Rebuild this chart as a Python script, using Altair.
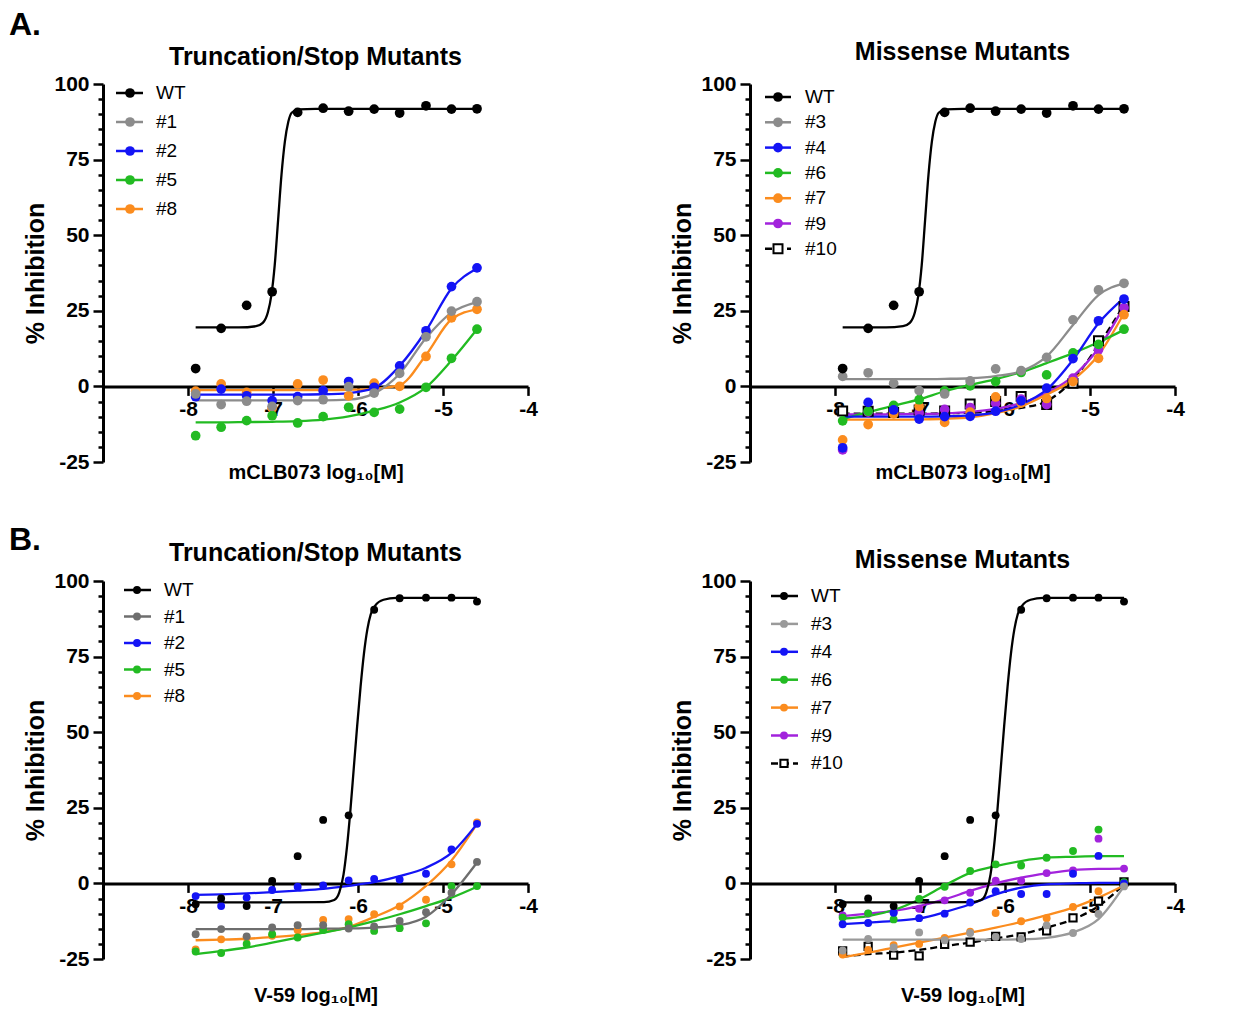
import altair as alt
import pandas as pd

FONT = "Liberation Sans"

# ---------------- data ----------------
DOSE = [-7.91, -7.61, -7.31, -7.01, -6.71, -6.41, -6.11, -5.81, -5.51, -5.20, -4.90, -4.60]
X_TICKS = [-8, -7, -6, -5, -4]
Y_TICKS = [-25, -20, -15, -10, -5, 0, 5, 10, 15, 20, 25, 30, 35, 40, 45, 50,
           55, 60, 65, 70, 75, 80, 85, 90, 95, 100]

# Panel A (mCLB073)
A_WT_PTS = [5.9, 19.2, 26.8, 31.3, 90.6, 92.0, 91.0, 91.7, 90.4, 92.8, 91.7, 91.8]
A_WT_FIT_X = [-7.91, -7.40, -7.20, -7.12, -7.06, -7.02, -6.98, -6.94, -6.90, -6.86, -6.82, -6.78, -6.70, -6.50, -4.60]
A_WT_FIT_Y = [19.5, 19.5, 19.9, 21.0, 24.5, 30.0, 40.0, 55.0, 70.0, 81.0, 87.5, 90.5, 91.6, 91.8, 91.8]

A_N1_PTS = [-2.5, -6.0, -4.9, -6.6, -4.7, -4.4, -0.1, -2.2, 4.3, 16.4, 24.9, 28.0]
A_N1_FIT = [-4.6, -4.6, -4.6, -4.6, -4.6, -4.6, -4.4, -2.3, 4.2, 16.0, 24.4, 27.9]
A_N2_PTS = [-3.4, -0.9, -3.1, -4.7, -3.4, -1.4, 1.6, -0.3, 6.8, 18.4, 33.0, 39.2]
A_N2_FIT = [-2.7, -2.7, -2.7, -2.7, -2.7, -2.6, -2.2, -0.5, 6.8, 18.4, 32.4, 39.0]
A_N5_PTS = [-16.3, -13.5, -11.3, -9.7, -12.1, -10.0, -6.9, -8.6, -7.5, -0.3, 9.3, 18.9]
A_N5_FIT = [-11.9, -11.9, -11.8, -11.7, -11.5, -11.0, -9.9, -8.0, -5.3, -0.3, 8.6, 18.9]
A_N8_PTS = [-1.6, 0.8, -2.0, -7.2, 0.8, 2.1, -3.1, 1.1, 0.0, 9.9, 22.7, 25.5]
A_N8_FIT = [-1.2, -1.2, -1.2, -1.2, -1.2, -1.2, -1.1, -0.8, 0.4, 10.4, 22.2, 25.5]

A_N3_PTS = [3.3, 4.5, 1.0, -1.4, -2.5, 1.8, 5.8, 5.2, 9.6, 22.0, 31.9, 34.1]
A_N3_FIT = [2.4, 2.4, 2.4, 2.4, 2.5, 2.7, 3.4, 5.0, 9.9, 20.3, 30.2, 34.1]
A_N4_PTS = [-20.3, -5.3, -7.8, -10.8, -10.0, -9.9, -8.2, -4.8, -0.6, 9.2, 21.7, 28.9]
A_N4_FIT = [-10.0, -10.0, -10.0, -10.0, -9.9, -9.6, -8.6, -6.0, -1.1, 8.8, 20.9, 29.3]
A_N6_PTS = [-11.4, -8.2, -6.3, -4.4, -1.5, 0.2, 1.6, 4.6, 3.8, 11.1, 13.9, 18.9]
A_N6_FIT = [-10.8, -8.5, -6.4, -4.3, -1.6, 0.5, 2.4, 4.7, 7.7, 11.0, 14.6, 18.7]
A_N7_PTS = [-17.7, -12.6, -9.1, -6.6, -11.9, -8.5, -3.5, -5.5, -4.0, 1.6, 9.3, 23.7]
A_N7_FIT = [-11.0, -11.0, -11.0, -10.9, -10.7, -10.2, -8.8, -6.6, -2.7, 2.2, 10.4, 24.2]
A_N9_PTS = [-21.0, -8.5, -8.7, -8.8, -7.6, -7.0, -5.6, -4.2, -6.0, 2.7, 12.1, 26.0]
A_N9_FIT = [-9.3, -9.3, -9.2, -9.1, -8.9, -8.4, -7.4, -5.5, -2.2, 3.3, 12.6, 26.4]
A_N10_PTS = [-8.1, -8.2, -8.6, -7.8, -8.1, -5.8, -5.0, -3.3, -6.0, 1.0, 15.1, 26.4]
A_N10_FIT = [-9.0, -9.0, -9.0, -9.0, -8.9, -8.7, -8.2, -7.1, -4.9, 2.2, 13.7, 26.9]

# Panel B (V-59)
B_WT_PTS = [-6.9, -5.0, -7.5, 0.8, 9.0, 21.0, 22.5, 90.5, 94.3, 94.5, 94.5, 93.2]
B_WT_FIT_X = [-7.91, -6.40, -6.28, -6.22, -6.17, -6.13, -6.09, -6.05, -6.01, -5.97, -5.93, -5.89, -5.85, -5.80, -5.70, -5.55, -4.60]
B_WT_FIT_Y = [-6.3, -6.2, -5.5, -3.0, 3.0, 12.0, 24.0, 38.0, 52.0, 65.0, 76.0, 84.0, 89.0, 91.8, 93.8, 94.4, 94.4]

B_N1_PTS = [-16.8, -15.1, -17.5, -14.6, -13.8, -13.8, -14.9, -14.2, -12.4, -9.5, -3.1, 7.1]
B_N1_FIT = [-15.1, -15.1, -15.1, -15.1, -15.1, -15.0, -14.9, -14.6, -13.8, -11.0, -3.6, 6.9]
B_N2_PTS = [-4.2, -7.5, -4.7, -2.2, -1.1, -0.7, 1.0, 1.5, 1.3, 3.2, 11.2, 19.7]
B_N2_FIT = [-3.8, -3.6, -3.3, -2.9, -2.4, -1.8, -0.8, 0.4, 2.4, 5.2, 10.1, 19.7]
B_N5_PTS = [-22.5, -23.0, -20.0, -16.8, -17.9, -15.4, -13.5, -15.7, -14.8, -13.2, -0.9, -0.9]
B_N5_FIT = [-23.4, -22.4, -21.2, -19.6, -17.9, -16.3, -14.6, -12.5, -10.2, -7.5, -4.7, -1.1]
B_N8_PTS = [-21.8, -18.5, -18.0, -17.3, -15.5, -12.1, -11.8, -10.2, -7.6, -5.4, 6.3, 20.2]
B_N8_FIT = [-18.8, -18.6, -18.3, -17.8, -17.1, -16.1, -14.4, -11.1, -7.2, -0.8, 7.6, 19.7]

B_N3_PTS = [-22.2, -18.4, -21.2, -16.2, -18.8, -16.4, -17.7, -18.4, -13.9, -16.4, -10.1, -1.0]
B_N3_FIT = [-18.6, -18.6, -18.6, -18.6, -18.6, -18.6, -18.6, -18.5, -18.0, -16.2, -11.8, -0.9]
B_N4_PTS = [-13.5, -13.1, -9.7, -11.5, -10.0, -6.3, -2.6, -3.5, -3.5, 3.2, 9.1, 0.0]
B_N4_FIT = [-13.5, -13.0, -12.4, -11.6, -9.5, -6.9, -3.6, -1.4, -0.3, 0.0, 0.2, 0.2]
B_N6_PTS = [-11.3, -9.9, -11.9, -5.1, -1.1, 4.1, 6.3, 5.9, 8.5, 10.7, 17.8, 0.4]
B_N6_FIT = [-11.6, -10.8, -8.8, -5.3, -0.7, 3.5, 5.7, 7.4, 8.5, 8.8, 9.0, 9.0]
B_N7_PTS = [-23.5, -22.0, -20.4, -20.0, -18.0, -16.0, -9.8, -12.5, -11.5, -7.8, -2.6, -0.5]
B_N7_FIT = [-24.4, -22.9, -21.2, -19.6, -17.9, -16.3, -14.6, -12.7, -10.5, -8.0, -4.7, -0.7]
B_N9_PTS = [-10.6, -10.0, -9.5, -8.4, -5.6, -3.1, 0.9, 0.9, 3.4, 4.3, 14.8, 4.9]
B_N9_FIT = [-10.8, -10.0, -9.1, -7.5, -5.3, -2.5, 0.0, 1.9, 3.3, 4.4, 4.8, 4.9]
B_N10_PTS = [-22.3, -20.8, -23.7, -24.0, -20.2, -19.4, -17.5, -17.7, -15.7, -11.4, -5.9, 0.5]
B_N10_FIT = [-24.2, -23.4, -22.9, -22.0, -20.7, -19.6, -18.2, -16.8, -14.6, -11.9, -7.5, -0.3]

BLACK = "#000000"
GRAY_A = "#8c8c8c"
GRAY_B1 = "#6e6e6e"
GRAY_B2 = "#9a9a9a"
BLUE = "#1414f5"
GREEN = "#22bb22"
ORANGE = "#fb8c1e"
PURPLE = "#a223dc"

W, H = 425, 378


def series(label, color, pts, fit, fit_x=None, square=False):
    return dict(label=label, color=color, pts=pts, fit=fit,
                fit_x=fit_x if fit_x is not None else DOSE, square=square)


def make_panel(title, title_offset, xtitle, xtitle_pad, slist, leg_top, leg_step,
               leg_x, psize, extra_tag=None):
    xscale = alt.Scale(domain=[-9, -4], nice=False, zero=False)
    yscale = alt.Scale(domain=[-25, 100], nice=False, zero=False)
    xaxis = alt.Axis(values=X_TICKS, labelExpr="'' + datum.value", offset=-H * 25 / 125,
                     tickSize=9, tickWidth=2.5, tickColor=BLACK, domainColor=BLACK,
                     domainWidth=3, labelFont=FONT, labelFontSize=21, labelFontWeight="bold",
                     labelColor=BLACK, labelPadding=3, labelFlush=False, labelOverlap=False,
                     title=xtitle, titleFont=FONT, titleFontSize=20, titleFontWeight="bold",
                     titleColor=BLACK, titlePadding=xtitle_pad, grid=False)
    yaxis = alt.Axis(values=Y_TICKS,
                     labelExpr="datum.value % 25 === 0 ? '' + datum.value : ''",
                     tickSize={"condition": {"test": "datum.value % 25 === 0", "value": 10}, "value": 5},
                     tickWidth=2.5, tickColor=BLACK, domainColor=BLACK, domainWidth=3,
                     labelFont=FONT, labelFontSize=21, labelFontWeight="bold", labelColor=BLACK,
                     labelPadding=4, labelFlush=False, labelOverlap=False,
                     title="% Inhibition", titleFont=FONT, titleFontSize=25,
                     titleFontWeight="bold", titleColor=BLACK, titlePadding=5, grid=False)
    X = alt.X("x:Q", scale=xscale, axis=xaxis)
    Y = alt.Y("y:Q", scale=yscale, axis=yaxis)

    lines, points = [], []
    for s in reversed(slist):
        fdf = pd.DataFrame({"x": s["fit_x"], "y": s["fit"]})
        kw = dict(color=BLACK if s["square"] else s["color"], strokeWidth=2.3,
                  interpolate="monotone")
        if s["square"]:
            kw["strokeDash"] = [7, 4]
        lines.append(alt.Chart(fdf).mark_line(**kw).encode(x=X, y=Y))
        pdf = pd.DataFrame({"x": DOSE, "y": s["pts"]})
        if s["square"]:
            points.append(alt.Chart(pdf).mark_point(shape="square", filled=True, fill="white",
                                                    stroke=BLACK, strokeWidth=2, size=psize * 0.85,
                                                    opacity=1).encode(x=X, y=Y))
        else:
            points.append(alt.Chart(pdf).mark_circle(color=s["color"], size=psize,
                                                     opacity=1).encode(x=X, y=Y))
    data_layer = alt.layer(*lines, *points)

    labels = [s["label"] for s in slist]
    n = len(labels)
    ldf = pd.DataFrame({"label": labels,
                        "color": [s["color"] for s in slist],
                        "sq": [s["square"] for s in slist]})
    yleg = alt.Y("label:N", axis=None,
                 scale=alt.Scale(type="point", domain=labels, padding=0,
                                 range=[leg_top, leg_top + leg_step * (n - 1)]))
    lx0, lx1, ldot, ltxt = leg_x
    solid = ldf[~ldf["sq"]]
    sq = ldf[ldf["sq"]]
    leg_layers = [
        alt.Chart(solid).mark_rule(strokeWidth=2.5).encode(
            y=yleg, x=alt.value(lx0), x2=alt.value(lx1), color=alt.Color("color:N", scale=None)),
        alt.Chart(solid).mark_circle(size=psize, opacity=1).encode(
            y=yleg, x=alt.value(ldot), color=alt.Color("color:N", scale=None)),
        alt.Chart(ldf).mark_text(align="left", baseline="middle", font=FONT, fontSize=19,
                                 color=BLACK).encode(y=yleg, x=alt.value(ltxt), text="label:N"),
    ]
    if len(sq):
        leg_layers.insert(1, alt.Chart(sq).mark_rule(strokeWidth=2.5, strokeDash=[7, 4], color=BLACK).encode(
            y=yleg, x=alt.value(lx0), x2=alt.value(lx1)))
        leg_layers.append(alt.Chart(sq).mark_point(shape="square", filled=True, fill="white",
                                                   stroke=BLACK, strokeWidth=2, size=psize * 0.85,
                                                   opacity=1).encode(y=yleg, x=alt.value(ldot)))
    legend_layer = alt.layer(*leg_layers)

    parts = [data_layer, legend_layer]
    if extra_tag:
        # panel letter of the next row, drawn below this panel
        parts.append(alt.Chart(pd.DataFrame({"t": [extra_tag]})).mark_text(
            align="left", baseline="middle", font=FONT, fontSize=32, fontWeight="bold",
            color=BLACK).encode(x=alt.value(-94), y=alt.value(H + 78), text="t:N"))
    return alt.layer(*parts).resolve_scale(y="independent").properties(
        width=W, height=H,
        title=alt.TitleParams(title, font=FONT, fontSize=25, fontWeight="bold", color=BLACK,
                              offset=title_offset, anchor="middle"))


XT_A = "mCLB073 log\u2081\u2080[M]"
XT_B = "V-59 log\u2081\u2080[M]"

a_left = make_panel("Truncation/Stop Mutants", 3, XT_A, 43, [
    series("WT", BLACK, A_WT_PTS, A_WT_FIT_Y, A_WT_FIT_X),
    series("#1", GRAY_A, A_N1_PTS, A_N1_FIT),
    series("#2", BLUE, A_N2_PTS, A_N2_FIT),
    series("#5", GREEN, A_N5_PTS, A_N5_FIT),
    series("#8", ORANGE, A_N8_PTS, A_N8_FIT),
], 9, 29, (13, 40, 27, 53), 95, extra_tag="B.")

a_right = make_panel("Missense Mutants", 8, XT_A, 43, [
    series("WT", BLACK, A_WT_PTS, A_WT_FIT_Y, A_WT_FIT_X),
    series("#3", GRAY_A, A_N3_PTS, A_N3_FIT),
    series("#4", BLUE, A_N4_PTS, A_N4_FIT),
    series("#6", GREEN, A_N6_PTS, A_N6_FIT),
    series("#7", ORANGE, A_N7_PTS, A_N7_FIT),
    series("#9", PURPLE, A_N9_PTS, A_N9_FIT),
    series("#10", BLACK, A_N10_PTS, A_N10_FIT, square=True),
], 13, 25.3, (15, 41, 28, 55), 95)

b_left = make_panel("Truncation/Stop Mutants", 4, XT_B, 69, [
    series("WT", BLACK, B_WT_PTS, B_WT_FIT_Y, B_WT_FIT_X),
    series("#1", GRAY_B1, B_N1_PTS, B_N1_FIT),
    series("#2", BLUE, B_N2_PTS, B_N2_FIT),
    series("#5", GREEN, B_N5_PTS, B_N5_FIT),
    series("#8", ORANGE, B_N8_PTS, B_N8_FIT),
], 9, 26.5, (21, 48, 34, 61), 62)

b_right = make_panel("Missense Mutants", -3, XT_B, 69, [
    series("WT", BLACK, B_WT_PTS, B_WT_FIT_Y, B_WT_FIT_X),
    series("#3", GRAY_B2, B_N3_PTS, B_N3_FIT),
    series("#4", BLUE, B_N4_PTS, B_N4_FIT),
    series("#6", GREEN, B_N6_PTS, B_N6_FIT),
    series("#7", ORANGE, B_N7_PTS, B_N7_FIT),
    series("#9", PURPLE, B_N9_PTS, B_N9_FIT),
    series("#10", BLACK, B_N10_PTS, B_N10_FIT, square=True),
], 15, 27.9, (21, 48, 34, 61), 62)

chart = alt.concat(a_left, a_right, b_left, b_right, columns=2,
                   spacing={"row": 119, "column": 222}, bounds="flush").properties(
    title=alt.TitleParams("A.", font=FONT, fontSize=32, fontWeight="bold", color=BLACK,
                          anchor="start", offset=-2),
    padding={"left": 9, "top": 9, "right": 5, "bottom": 5},
    background="white",
).configure_view(stroke=None)

chart.save("out.html", embed_options={"renderer": "svg", "actions": False})
